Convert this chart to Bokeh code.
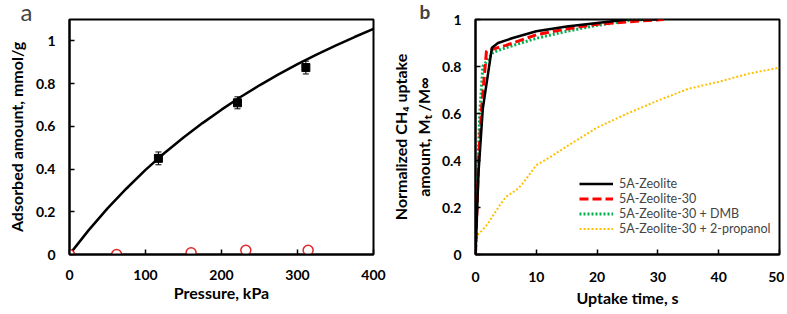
from bokeh.plotting import figure
from bokeh.layouts import row
from bokeh.models import Range1d, FixedTicker, Legend, LegendItem, Whisker, ColumnDataSource, AllLabels
from bokeh.embed import file_html
from bokeh.resources import INLINE

# ---------------- data: panel a ----------------
fit_p = [0, 25, 50, 75, 100, 125, 150, 175, 200, 225, 250, 275, 300, 325, 350, 375, 400]
fit_q = [0, 0.113, 0.216, 0.309, 0.396, 0.475, 0.548, 0.615, 0.678, 0.737, 0.792, 0.843, 0.891, 0.936, 0.978, 1.018, 1.056]
sq_p = [117, 221, 311]
sq_q = [0.45, 0.71, 0.875]
sq_err = [0.03, 0.028, 0.03]
circ_p = [0, 62, 160, 232, 314]
circ_q = [0.0, 0.0, 0.008, 0.02, 0.02]

# ---------------- data: panel b ----------------
zeo_t = [0, 0.5, 1.2, 2.7, 3.7, 6, 10, 15, 20, 25, 30]
zeo_y = [0, 0.35, 0.62, 0.88, 0.9, 0.92, 0.95, 0.97, 0.985, 1.0, 1.0]
z30_t = [0, 0.5, 1.0, 1.8, 3, 5, 10, 15, 20, 25, 31]
z30_y = [0, 0.4, 0.62, 0.865, 0.875, 0.89, 0.935, 0.96, 0.98, 0.99, 1.0]
dmb_t = [0, 0.3, 0.7, 1.2, 2.9, 5, 10, 15, 20, 25, 28]
dmb_y = [0, 0.3, 0.6, 0.8, 0.86, 0.88, 0.92, 0.95, 0.975, 0.995, 1.0]
pro_t = [0, 0.2, 1, 2, 3, 4, 5, 7, 8, 10, 12, 15, 20, 25, 30, 35, 40, 45, 50]
pro_y = [0, 0.08, 0.1, 0.13, 0.17, 0.21, 0.245, 0.28, 0.31, 0.38, 0.41, 0.46, 0.54, 0.6, 0.655, 0.705, 0.735, 0.77, 0.795]
legend_names = ["5A-Zeolite", "5A-Zeolite-30", "5A-Zeolite-30 + DMB", "5A-Zeolite-30 + 2-propanol"]

FONT = "Lato"
RED = "#ff0000"
GREEN = "#00b050"
YELLOW = "#ffc000"


def style(p, xticks, yticks):
    p.outline_line_color = "black"
    p.outline_line_width = 2
    p.grid.visible = False
    p.background_fill_color = "white"
    p.border_fill_color = "white"
    for ax in (p.xaxis[0], p.yaxis[0]):
        ax.axis_line_width = 2
        ax.major_tick_in = 5
        ax.major_tick_out = 0
        ax.major_tick_line_width = 1.5
        ax.minor_tick_line_color = None
        ax.major_label_policy = AllLabels()
        ax.major_label_text_font = FONT
        ax.major_label_text_font_style = "bold"
        ax.major_label_text_font_size = "14px"
        ax.major_label_text_color = "black"
        ax.major_label_text_line_height = 1.0
        ax.axis_label_text_font = FONT
        ax.axis_label_text_font_style = "bold"
        ax.axis_label_text_font_size = "16px"
        ax.axis_label_text_color = "black"
    p.xaxis[0].ticker = FixedTicker(ticks=xticks)
    p.yaxis[0].ticker = FixedTicker(ticks=yticks)
    p.yaxis[0].major_label_standoff = 14
    p.xaxis[0].major_label_standoff = 17
    p.xaxis[0].axis_label_text_line_height = 1.0


# ---------------- panel a ----------------
p1 = figure(output_backend="svg", toolbar_location=None,
            x_range=Range1d(0, 400), y_range=Range1d(0, 1.1),
            min_border_left=69, min_border_right=15, min_border_top=17, min_border_bottom=49,
            frame_width=304, frame_height=235)
style(p1, [0, 100, 200, 300, 400], [0, 0.2, 0.4, 0.6, 0.8, 1.0])
p1.yaxis[0].major_label_overrides = {0: "0", 1.0: "1"}
p1.xaxis[0].axis_label = "Pressure, kPa"
p1.xaxis[0].major_label_standoff = 15
p1.xaxis[0].axis_label_standoff = 0
p1.yaxis[0].axis_label = "Adsorbed amount, mmol/g"
p1.yaxis[0].axis_label_standoff = 7
p1.title.text = "a"
p1.title.align = "left"
p1.title.offset = -49
p1.title.standoff = -13
p1.title.text_line_height = 1.0
p1.title.text_font = FONT
p1.title.text_font_style = "normal"
p1.title.text_font_size = "24px"

p1.line(fit_p, fit_q, line_color="black", line_width=2.5)
src_sq = ColumnDataSource(dict(x=sq_p, y=sq_q,
                               lo=[a - b for a, b in zip(sq_q, sq_err)],
                               hi=[a + b for a, b in zip(sq_q, sq_err)]))
wh = Whisker(source=src_sq, base="x", lower="lo", upper="hi", line_color="black", line_width=1)
wh.upper_head.size = 6
wh.lower_head.size = 6
wh.upper_head.line_color = "black"
wh.lower_head.line_color = "black"
p1.add_layout(wh)
p1.scatter(sq_p, sq_q, marker="square", size=8, fill_color="black", line_color="black")
p1.scatter(circ_p, circ_q, marker="circle", size=10, fill_color="white", line_color="#e02828", line_width=1.5)

# ---------------- panel b ----------------
p2 = figure(output_backend="svg", toolbar_location=None,
            x_range=Range1d(0, 50), y_range=Range1d(0, 1),
            min_border_left=86, min_border_right=5, min_border_top=17, min_border_bottom=49,
            frame_width=304, frame_height=235)
style(p2, [0, 10, 20, 30, 40, 50], [0, 0.2, 0.4, 0.6, 0.8, 1.0])
p2.yaxis[0].major_label_overrides = {0: "0", 1.0: "1"}
p2.xaxis[0].axis_label = "Uptake time, s"
p2.xaxis[0].axis_label_standoff = 3
p2.yaxis[0].axis_label = "Normalized CH\u2084 uptake\namount, M\u209c /M\u221e"
p2.yaxis[0].axis_label_standoff = 6
p2.title.text = "b"
p2.title.align = "left"
p2.title.offset = -56
p2.title.standoff = -6
p2.title.text_line_height = 1.0
p2.title.text_font = FONT
p2.title.text_font_style = "bold"
p2.title.text_font_size = "19px"

r_pro = p2.line(pro_t, pro_y, line_color=YELLOW, line_width=2, line_dash="2 2")
r_dmb = p2.line(dmb_t, dmb_y, line_color=GREEN, line_width=3, line_dash="2 2")
r_z30 = p2.line(z30_t, z30_y, line_color=RED, line_width=3, line_dash="9 4")
r_zeo = p2.line(zeo_t, zeo_y, line_color="black", line_width=2.5)

leg = Legend(items=[LegendItem(label=legend_names[0], renderers=[r_zeo]),
                    LegendItem(label=legend_names[1], renderers=[r_z30]),
                    LegendItem(label=legend_names[2], renderers=[r_dmb]),
                    LegendItem(label=legend_names[3], renderers=[r_pro])],
             location=(104, 18), background_fill_alpha=0, border_line_color=None,
             label_text_font=FONT, label_text_font_size="12.5px", label_text_line_height=0.85,
             label_height=13, glyph_height=13,
             glyph_width=34, label_standoff=6, spacing=0, padding=0, margin=0)
p2.add_layout(leg, "center")

layout = row(p1, p2)
open("out.html", "w").write(file_html(layout, INLINE))
